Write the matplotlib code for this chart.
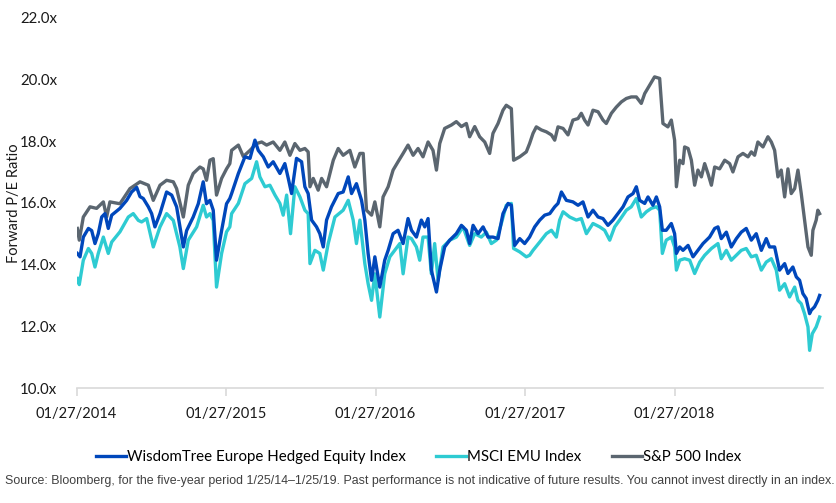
import matplotlib
matplotlib.use('Agg')
import matplotlib.pyplot as plt

plt.rcParams['font.family'] = ['Lato', 'DejaVu Sans']

# x values are decimal years, values are forward P/E ratios
sp_t = [2014.076, 2014.089, 2014.116, 2014.161, 2014.205, 2014.250, 2014.272, 2014.294, 2014.361, 2014.428,
        2014.495, 2014.551, 2014.584, 2014.629, 2014.673, 2014.718, 2014.740, 2014.785, 2014.818, 2014.851,
        2014.896, 2014.918, 2014.940, 2014.963, 2014.985, 2015.007, 2015.041, 2015.074, 2015.096,
        2015.108, 2015.153, 2015.186, 2015.231, 2015.275, 2015.309, 2015.342, 2015.386, 2015.431, 2015.464,
        2015.498, 2015.531, 2015.565, 2015.598, 2015.620, 2015.632, 2015.654, 2015.687, 2015.710, 2015.743,
        2015.788, 2015.821, 2015.854, 2015.899, 2015.932, 2015.966, 2015.988, 2016.010, 2016.044, 2016.066,
        2016.099, 2016.121, 2016.155, 2016.188, 2016.221, 2016.255, 2016.288, 2016.322, 2016.355, 2016.388,
        2016.422, 2016.455, 2016.478, 2016.500, 2016.533, 2016.578, 2016.611, 2016.645, 2016.678, 2016.700,
        2016.734, 2016.767, 2016.801, 2016.834, 2016.856, 2016.890, 2016.923, 2016.945, 2016.979, 2016.994,
        2017.035, 2017.079, 2017.101, 2017.124, 2017.146, 2017.180, 2017.213, 2017.247, 2017.269, 2017.291,
        2017.325, 2017.358, 2017.391, 2017.425, 2017.447, 2017.469, 2017.492, 2017.525, 2017.559, 2017.592,
        2017.614, 2017.648, 2017.681, 2017.715, 2017.748, 2017.781, 2017.815, 2017.848, 2017.871, 2017.904,
        2017.937, 2017.971, 2017.993, 2018.026, 2018.049, 2018.071, 2018.083, 2018.105, 2018.127, 2018.138,
        2018.161, 2018.183, 2018.205, 2018.227, 2018.250, 2018.272, 2018.294, 2018.317, 2018.339, 2018.372,
        2018.406, 2018.439, 2018.461, 2018.495, 2018.528, 2018.562, 2018.584, 2018.606, 2018.628, 2018.662,
        2018.695, 2018.718, 2018.740, 2018.762, 2018.784, 2018.807, 2018.829, 2018.851, 2018.874, 2018.896,
        2018.918, 2018.940, 2018.963, 2018.985, 2018.996, 2019.018, 2019.029, 2019.041]
sp_pe = [15.17, 14.79, 15.54, 15.87, 15.82, 16.03, 15.54, 16.03, 15.97, 16.46,
         16.68, 16.57, 16.08, 16.57, 16.73, 16.68, 16.46, 15.54, 16.57, 16.95,
         17.16, 17.10, 16.73, 17.38, 17.43, 16.25, 16.79, 17.10, 17.27,
         17.70, 17.87, 17.50, 17.70, 17.92, 17.97, 17.87, 17.97, 17.70, 17.97,
         17.54, 17.92, 17.70, 17.76, 17.65, 16.52, 16.79, 16.41, 16.79, 16.52,
         17.38, 17.76, 17.54, 17.70, 17.16, 17.60, 17.60, 15.76, 15.60, 16.03,
         15.22, 16.19, 16.52, 17.06, 17.33, 17.60, 17.87, 17.54, 17.76, 17.49,
         17.97, 17.70, 17.06, 17.92, 18.41, 18.52, 18.63, 18.47, 18.57, 18.14,
         18.47, 18.14, 17.97, 17.60, 18.25, 18.57, 19.00, 19.16, 19.05, 17.38,
         17.49, 17.65, 17.92, 18.25, 18.46, 18.36, 18.30, 18.20, 18.03, 18.46,
         18.41, 18.20, 18.68, 18.73, 18.90, 18.68, 18.52, 19.00, 18.95, 18.68,
         18.57, 18.90, 19.10, 19.27, 19.38, 19.43, 19.43, 19.22, 19.54, 19.81,
         20.08, 20.03, 18.57, 18.46, 18.68, 18.03, 16.52, 17.38, 17.27, 17.81,
         17.76, 17.38, 16.57, 17.06, 16.84, 17.27, 16.95, 16.57, 17.16, 17.10,
         17.38, 17.27, 17.00, 17.49, 17.60, 17.49, 17.65, 17.54, 17.97, 17.81,
         18.14, 17.97, 17.70, 16.84, 17.06, 16.19, 17.10, 16.30, 16.46, 17.06,
         16.30, 15.44, 14.57, 14.30, 15.11, 15.44, 15.76, 15.65]

wt_t = [2014.076, 2014.094, 2014.116, 2014.150, 2014.172, 2014.194, 2014.216, 2014.239, 2014.261, 2014.283,
        2014.306, 2014.361, 2014.406, 2014.439, 2014.473, 2014.495, 2014.517, 2014.551, 2014.573, 2014.595,
        2014.629, 2014.673, 2014.707, 2014.740, 2014.785, 2014.807, 2014.851, 2014.885, 2014.918, 2014.940,
        2014.963, 2014.985, 2015.007, 2015.041, 2015.074, 2015.096,
        2015.108, 2015.153, 2015.197, 2015.231, 2015.264, 2015.286, 2015.320, 2015.353, 2015.386, 2015.431,
        2015.464, 2015.487, 2015.509, 2015.542, 2015.576, 2015.598, 2015.620, 2015.643, 2015.676, 2015.698,
        2015.721, 2015.743, 2015.776, 2015.821, 2015.854, 2015.888, 2015.910, 2015.943, 2015.977, 2015.999,
        2016.021, 2016.044, 2016.066, 2016.099,
        2016.132, 2016.155, 2016.188, 2016.221, 2016.255, 2016.288, 2016.311, 2016.344, 2016.377, 2016.400,
        2016.422, 2016.444, 2016.478, 2016.500, 2016.533, 2016.567, 2016.611, 2016.645, 2016.678, 2016.700,
        2016.723, 2016.756, 2016.790, 2016.823, 2016.856, 2016.890, 2016.923, 2016.957, 2016.979, 2017.001,
        2017.035, 2017.068, 2017.101,
        2017.135, 2017.169, 2017.202, 2017.236, 2017.269, 2017.291, 2017.314, 2017.347, 2017.391, 2017.425,
        2017.458, 2017.492, 2017.525, 2017.559, 2017.592, 2017.625, 2017.659, 2017.692, 2017.726, 2017.759,
        2017.793, 2017.815, 2017.837, 2017.871, 2017.893, 2017.926, 2017.949, 2017.971, 2017.989, 2018.015,
        2018.049, 2018.071,
        2018.083, 2018.105, 2018.127, 2018.161, 2018.194, 2018.227, 2018.261, 2018.305, 2018.339, 2018.361,
        2018.383, 2018.417, 2018.450, 2018.484, 2018.517, 2018.550, 2018.584, 2018.617, 2018.651, 2018.684,
        2018.706, 2018.740, 2018.773, 2018.807, 2018.829, 2018.862, 2018.885, 2018.907, 2018.929, 2018.951,
        2018.974, 2018.985, 2019.007, 2019.029, 2019.041]
wt_pe = [14.36, 14.25, 14.89, 15.17, 15.10, 14.68, 15.00, 15.54, 15.65, 15.17,
         15.60, 15.82, 16.08, 16.35, 16.50, 16.20, 16.14, 15.87, 15.65, 15.22,
         15.65, 16.35, 16.25, 15.87, 14.57, 15.10, 15.54, 15.97, 16.68, 15.97,
         16.08, 15.76, 14.14, 15.10, 15.97, 16.14,
         16.30, 16.95, 17.49, 17.44, 18.03, 17.70, 17.49, 17.16, 17.33, 16.95,
         17.27, 16.79, 16.30, 17.44, 17.33, 16.52, 16.30, 15.44, 15.22, 15.00,
         14.57, 15.44, 15.87, 16.30, 16.35, 16.84, 16.30, 16.62, 16.08, 15.44,
         14.36, 13.49, 14.25, 13.27,
         14.14, 14.46, 15.00, 15.11, 14.68, 15.49, 15.11, 14.89, 15.44, 15.22,
         15.49, 13.82, 13.11, 13.82, 14.57, 14.79, 15.00, 15.27, 15.11, 14.68,
         15.27, 15.00, 15.22, 14.89, 14.89, 14.84, 15.65, 15.98, 15.92, 14.62,
         14.84, 14.68, 14.89,
         15.22, 15.44, 15.60, 15.65, 15.87, 15.98, 16.35, 16.08, 16.03, 15.92,
         16.03, 15.54, 15.76, 15.54, 15.49, 15.27, 15.44, 15.65, 15.87, 16.19,
         16.30, 16.52, 16.08, 15.98, 16.19, 15.92, 16.19, 15.87, 15.11, 15.11,
         15.33, 15.00,
         14.36, 14.57, 14.46, 14.62, 14.25, 14.46, 14.68, 14.89, 15.17, 15.22,
         14.84, 15.05, 14.57, 14.84, 15.05, 15.17, 14.79, 15.00, 14.46, 14.84,
         14.57, 14.57, 13.82, 14.03, 13.71, 13.92, 13.60, 13.49, 13.06, 12.90,
         12.41, 12.52, 12.63, 12.84, 13.00]

emu_t = [2014.076, 2014.089, 2014.116, 2014.150, 2014.172, 2014.194, 2014.216, 2014.250, 2014.283, 2014.306,
         2014.361, 2014.417, 2014.450, 2014.484, 2014.506, 2014.540, 2014.584, 2014.629, 2014.673, 2014.718,
         2014.762, 2014.785, 2014.818, 2014.874, 2014.918, 2014.940, 2014.963, 2014.985, 2015.007, 2015.041,
         2015.074, 2015.096,
         2015.108, 2015.153, 2015.197, 2015.242, 2015.275, 2015.297, 2015.331, 2015.364, 2015.398, 2015.431,
         2015.453, 2015.476, 2015.502, 2015.531, 2015.565, 2015.598, 2015.620, 2015.632, 2015.665, 2015.698,
         2015.721, 2015.754, 2015.799, 2015.854, 2015.888, 2015.921, 2015.943, 2015.966, 2015.999, 2016.021,
         2016.044, 2016.066, 2016.099,
         2016.132, 2016.166, 2016.199, 2016.233, 2016.255, 2016.288, 2016.311, 2016.344, 2016.366, 2016.388,
         2016.422, 2016.444, 2016.466, 2016.489, 2016.522, 2016.567, 2016.611, 2016.656, 2016.700, 2016.734,
         2016.778, 2016.812, 2016.845, 2016.879, 2016.912, 2016.945, 2016.979, 2016.994, 2017.035, 2017.079,
         2017.101,
         2017.124, 2017.169, 2017.213, 2017.247, 2017.280, 2017.302, 2017.325, 2017.369, 2017.414, 2017.447,
         2017.481, 2017.525, 2017.570, 2017.603, 2017.637, 2017.670, 2017.703, 2017.748, 2017.781, 2017.815,
         2017.848, 2017.882, 2017.915, 2017.949, 2017.971, 2017.989, 2018.015, 2018.049, 2018.071,
         2018.083, 2018.105, 2018.138, 2018.172, 2018.205, 2018.239, 2018.272, 2018.317, 2018.361, 2018.383,
         2018.417, 2018.450, 2018.484, 2018.517, 2018.550, 2018.584, 2018.617, 2018.651, 2018.684, 2018.718,
         2018.751, 2018.773, 2018.807, 2018.840, 2018.874, 2018.896, 2018.918, 2018.940, 2018.963, 2018.974,
         2018.992, 2019.018, 2019.041]
emu_pe = [13.55, 13.35, 14.14, 14.52, 14.36, 13.92, 14.36, 14.89, 14.36, 14.73,
          15.06, 15.54, 15.65, 15.43, 15.38, 15.49, 14.57, 15.22, 15.65, 15.43,
          14.57, 13.87, 14.79, 15.22, 15.92, 15.54, 15.65, 15.43, 13.27, 14.36,
          15.06, 15.22,
          15.65, 15.98, 16.62, 16.79, 17.33, 16.84, 16.52, 16.57, 16.25, 15.98,
          15.60, 16.25, 15.00, 16.52, 16.19, 15.76, 15.65, 14.03, 14.46, 14.36,
          13.82, 14.68, 15.54, 15.76, 16.08, 15.44, 14.68, 15.44, 14.03, 13.38,
          12.84, 13.70, 12.30,
          13.70, 14.25, 14.46, 14.68, 13.70, 14.89, 14.84, 14.57, 14.14, 14.89,
          14.89, 13.70, 14.68, 13.49, 14.57, 14.79, 14.89, 15.22, 14.62, 15.00,
          14.89, 15.05, 14.68, 14.79, 15.33, 15.92, 15.98, 14.52, 14.41, 14.25,
          14.30,
          14.46, 14.73, 15.00, 15.11, 14.89, 15.44, 15.71, 15.54, 15.44, 15.49,
          15.00, 15.33, 15.22, 15.11, 14.79, 15.22, 15.44, 15.76, 15.87, 16.14,
          15.54, 15.71, 15.82, 15.87, 15.76, 14.36, 14.79, 14.89, 14.57,
          13.82, 14.14, 14.19, 14.14, 13.71, 14.08, 14.30, 14.52, 14.68, 14.19,
          14.46, 14.14, 14.30, 14.46, 14.52, 14.25, 14.30, 13.82, 14.08, 14.19,
          13.82, 13.17, 13.38, 12.95, 13.27, 12.84, 12.73, 12.41, 11.98, 11.22,
          11.76, 11.98, 12.30]

tick_pos = [2014.071, 2015.071, 2016.071, 2017.071, 2018.071]
tick_labels = ['01/27/2014', '01/27/2015', '01/27/2016', '01/27/2017', '01/27/2018']
y_ticks = [10, 12, 14, 16, 18, 20, 22]

fig = plt.figure(figsize=(8.37, 5.03), dpi=100)
ax = fig.add_axes([0.0915, 0.2286, 0.8915, 0.7364])

ax.plot(wt_t, wt_pe, color='#0047BB', lw=2.4, label='WisdomTree Europe Hedged Equity Index', zorder=3)
ax.plot(emu_t, emu_pe, color='#2ECBD2', lw=2.4, label='MSCI EMU Index', zorder=2)
ax.plot(sp_t, sp_pe, color='#5B6670', lw=2.4, label='S&P 500 Index', zorder=1)

ax.set_xlim(2014.071, 2019.062)
ax.set_ylim(10, 22)
ax.set_yticks(y_ticks)
ax.set_yticklabels(['%.1fx' % v for v in y_ticks])
ax.set_xticks(tick_pos)
ax.set_xticklabels(tick_labels)

for s in ['top', 'right', 'left']:
    ax.spines[s].set_visible(False)
ax.spines['bottom'].set_color('#D9D9D9')
ax.spines['bottom'].set_linewidth(1.2)
ax.tick_params(axis='y', length=0, labelsize=10.8, pad=14, colors='#1a1a1a')
ax.tick_params(axis='x', length=6, width=1.2, color='#D9D9D9', labelsize=10.5, pad=8, labelcolor='#1a1a1a')
ax.set_ylabel('Forward P/E Ratio', fontsize=10.5, color='#1a1a1a')
ax.yaxis.set_label_coords(-0.074, 0.5)

fig.legend(loc='center', bbox_to_anchor=(0.5, 0.091), ncol=3, frameon=False,
           fontsize=10.8, handlelength=2.0, handletextpad=0.1, columnspacing=2.0)

fig.text(0.006, 0.044, 'Source: Bloomberg, for the five-year period 1/25/14\u20131/25/19. Past performance is not indicative of future results. You cannot invest directly in an index.',
         fontsize=8.9, color='#404040', va='center', ha='left',
         family=['Liberation Sans', 'DejaVu Sans'])

fig.savefig('out.png', dpi=100)
